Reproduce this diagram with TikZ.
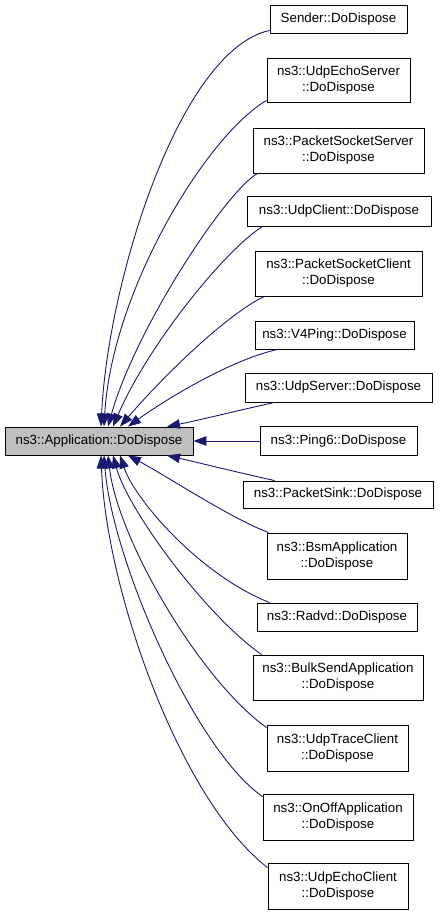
\documentclass[tikz,border=0pt]{standalone}
\usepackage{fontspec}
\setmainfont{Liberation Sans}
\usetikzlibrary{arrows.meta}
\definecolor{edgeblue}{RGB}{25,25,112}
\definecolor{maingray}{RGB}{191,191,191}
\begin{document}
\begin{tikzpicture}[x=1pt,y=-1pt,
  box/.style={draw=black,line width=0.9pt,fill=white,inner sep=0pt,align=center,
    font=\fontsize{13.33}{16}\selectfont},
  edge/.style={draw=edgeblue,line width=0.9pt,-{Triangle[length=13pt,width=9.5pt,fill=edgeblue]}},
]
\path[use as bounding box] (0,0) rectangle (440,915);
\node[box,fill=maingray,minimum width=188pt,minimum height=28pt] (main) at (99,441) {ns3::Application::DoDispose};

\node[box,minimum width=137pt,minimum height=28pt] (c1) at (338.5,19) {Sender::DoDispose};
\node[box,minimum width=143pt,minimum height=44pt] (c2) at (338.5,80) {ns3::UdpEchoServer\\::DoDispose};
\node[box,minimum width=171pt,minimum height=45pt] (c3) at (338.5,150.5) {ns3::PacketSocketServer\\::DoDispose};
\node[box,minimum width=184pt,minimum height=30pt] (c4) at (339,211) {ns3::UdpClient::DoDispose};
\node[box,minimum width=167pt,minimum height=45pt] (c5) at (338.5,273.5) {ns3::PacketSocketClient\\::DoDispose};
\node[box,minimum width=159pt,minimum height=28pt] (c6) at (334.5,335) {ns3::V4Ping::DoDispose};
\node[box,minimum width=187pt,minimum height=29pt] (c7) at (338.5,387.5) {ns3::UdpServer::DoDispose};
\node[box,minimum width=157pt,minimum height=29pt] (c8) at (338.5,441) {ns3::Ping6::DoDispose};
\node[box,minimum width=190pt,minimum height=27pt] (c9) at (338,494.5) {ns3::PacketSink::DoDispose};
\node[box,minimum width=140pt,minimum height=46pt] (c10) at (337,556) {ns3::BsmApplication\\::DoDispose};
\node[box,minimum width=160pt,minimum height=28pt] (c11) at (337,617) {ns3::Radvd::DoDispose};
\node[box,minimum width=170pt,minimum height=45pt] (c12) at (338,677.5) {ns3::BulkSendApplication\\::DoDispose};
\node[box,minimum width=141pt,minimum height=46pt] (c13) at (337.5,748) {ns3::UdpTraceClient\\::DoDispose};
\node[box,minimum width=150pt,minimum height=46pt] (c14) at (338,817) {ns3::OnOffApplication\\::DoDispose};
\node[box,minimum width=140pt,minimum height=46pt] (c15) at (338,886) {ns3::UdpEchoClient\\::DoDispose};

\draw[edge] ([yshift=3pt]c1.south west) .. controls (180,50) and (108,280) .. ([xshift=2pt]main.north);
\draw[edge] ([yshift=2pt]c2.south west) .. controls (207,135) and (112,290) .. ([xshift=5pt]main.north);
\draw[edge] ([xshift=5pt]c3.south west) .. controls (225,192) and (135,330) .. ([xshift=9pt]main.north);
\draw[edge] ([xshift=16pt]c4.south west) .. controls (225,250) and (148,345) .. ([xshift=14pt]main.north);
\draw[edge] ([xshift=10pt]c5.south west) .. controls (225,315) and (160,380) .. ([xshift=21pt]main.north);
\draw[edge] ([xshift=23pt]c6.south west) .. controls (230,360) and (165,400) .. ([xshift=29pt]main.north);
\draw[edge] ([xshift=30pt]c7.south west) .. controls (240,410) and (200,420) .. ([xshift=68pt]main.north);
\draw[edge] (c8.west) -- (main.east);
\draw[edge] ([xshift=32pt]c9.north west) .. controls (240,473) and (200,463) .. ([xshift=68pt]main.south);
\draw[edge] ([xshift=2pt]c10.north west) .. controls (230,518) and (165,475) .. ([xshift=29pt]main.south);
\draw[edge] ([xshift=13pt]c11.north west) .. controls (200,575) and (135,500) .. ([xshift=21pt]main.south);
\draw[edge] ([xshift=9pt]c12.north west) .. controls (205,615) and (128,510) .. ([xshift=14pt]main.south);
\draw[edge] ([yshift=-3pt]c13.north west) .. controls (200,680) and (118,540) .. ([xshift=9pt]main.south);
\draw[edge] ([yshift=-3pt]c14.north west) .. controls (195,750) and (112,560) .. ([xshift=5pt]main.south);
\draw[edge] ([yshift=-5pt]c15.north west) .. controls (180,800) and (106,590) .. ([xshift=2pt]main.south);
\end{tikzpicture}
\end{document}
